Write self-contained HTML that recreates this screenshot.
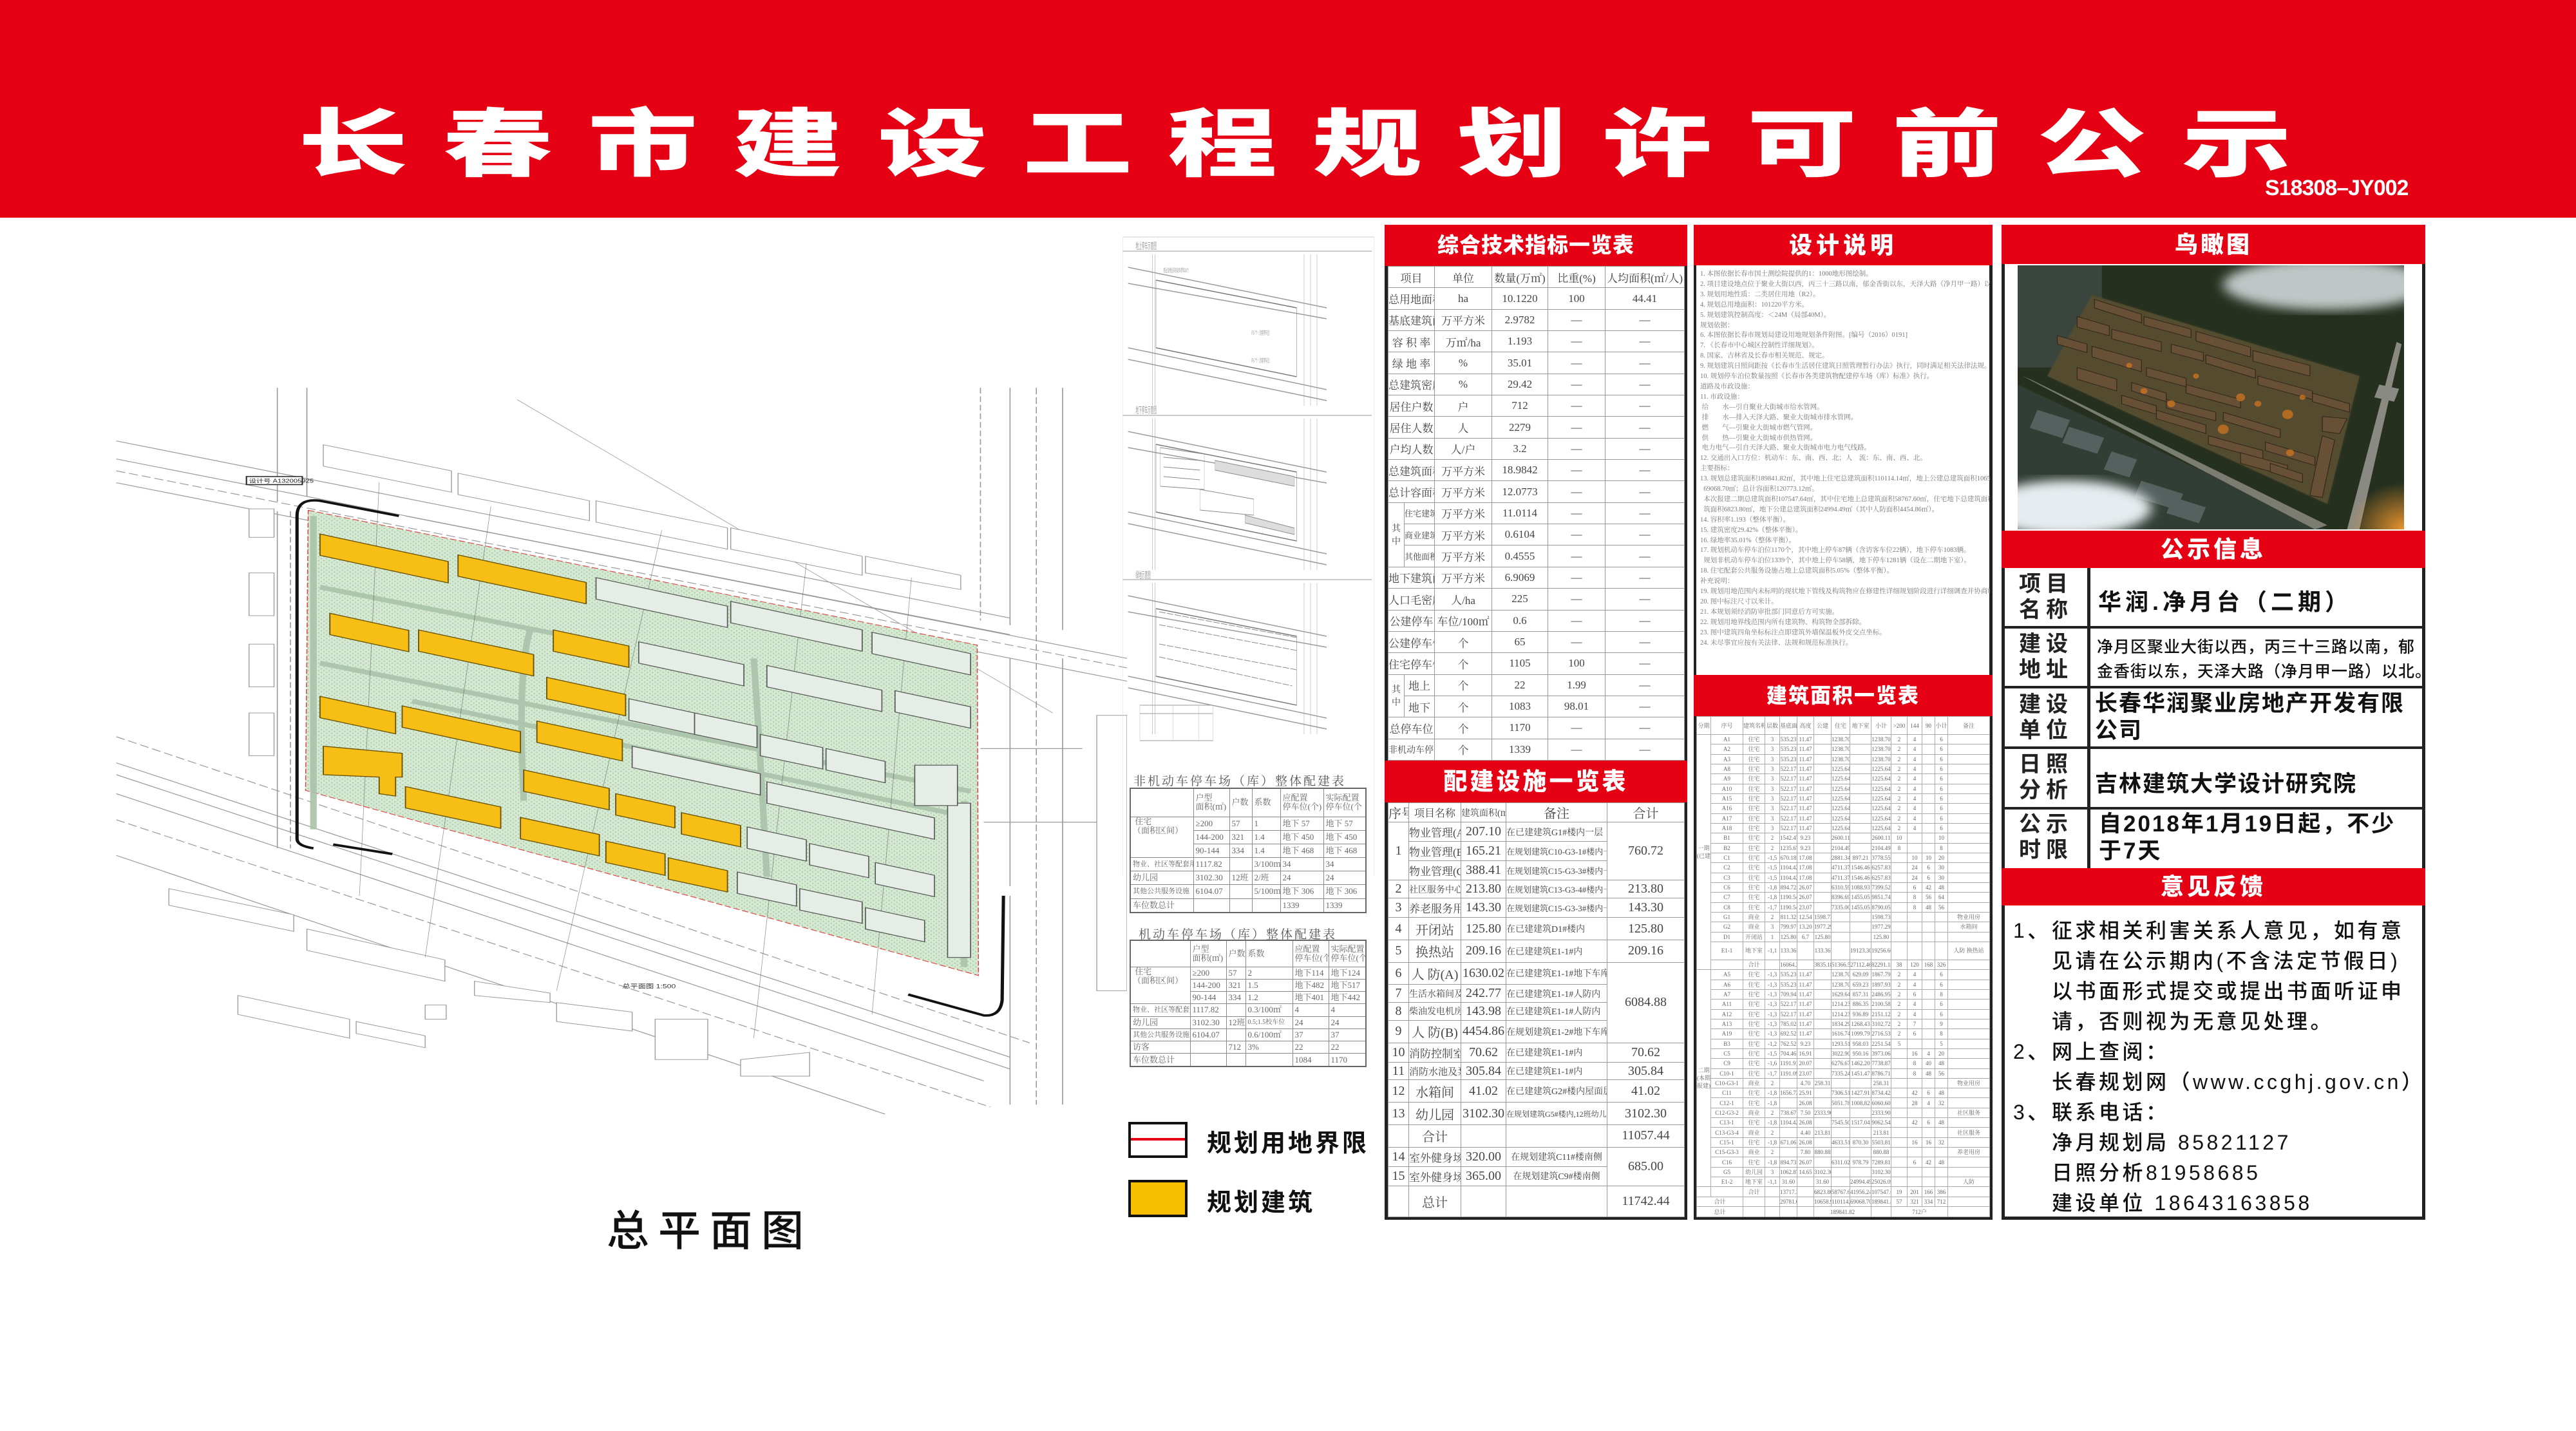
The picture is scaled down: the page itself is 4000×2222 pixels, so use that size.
<!DOCTYPE html>
<html><head><meta charset="utf-8">
<style>
*{margin:0;padding:0;box-sizing:border-box}
body{width:4000px;height:2222px;background:#fff;position:relative;overflow:hidden;font-family:"Liberation Sans","Noto Sans CJK SC",sans-serif}
.abs{position:absolute}
.red{background:#e50014}
.hdr{position:absolute;background:#e50014;color:#fff;font-weight:900;text-align:center;font-family:"Liberation Sans","Noto Sans CJK SC",sans-serif;white-space:nowrap}
table{border-collapse:collapse;table-layout:fixed}
.t1{font-family:"Liberation Serif","Noto Serif CJK SC",serif;color:#444}
.t1 td{border:1.5px solid #999;text-align:center;padding:0;overflow:hidden;white-space:nowrap}
.t3 td{border:1px solid #aaa;text-align:center;padding:0;overflow:hidden;white-space:nowrap;font-size:9px;line-height:12px;color:#666}
.tp td{border:1.5px solid #888;padding:0 3px;overflow:hidden;white-space:nowrap;font-size:13px;color:#666;line-height:14px}
.lab{font-weight:700;color:#222;font-size:34px;letter-spacing:8px;line-height:40px;text-align:center}
.val{color:#111;font-weight:700}
.fb{position:absolute;font-size:32px;color:#111;letter-spacing:4.5px;white-space:nowrap;font-weight:500}
</style></head><body>

<!-- HEADER -->
<div class="abs red" style="left:0;top:0;width:4000px;height:338px"></div>
<div class="abs" style="left:463px;top:128px;height:172px;width:3300px;color:#fff;font-family:'Noto Sans CJK SC',sans-serif;font-weight:900;font-size:170px;line-height:172px;white-space:nowrap;transform:scaleY(0.68);transform-origin:50% 50%;letter-spacing:55px">长春市建设工程规划许可前公示</div>
<div class="abs" style="left:3517px;top:273px;color:#fff;font-weight:700;font-size:34px;white-space:nowrap;letter-spacing:-1px">S18308–JY002</div>

<!-- SITE PLAN -->
<svg class="abs" style="left:150px;top:580px" width="1600" height="1150" viewBox="0 0 1568 1560" preserveAspectRatio="none">
<defs><pattern id="dots" width="8" height="8" patternUnits="userSpaceOnUse"><rect width="8" height="8" fill="#d4e8d2"/><circle cx="2" cy="2" r="1.1" fill="#9fc49b"/><circle cx="6" cy="6" r="1.1" fill="#9fc49b"/></pattern></defs>
<g stroke="#9a9a9a" stroke-width="1.6" fill="none">
<line x1="30" y1="142" x2="1390" y2="515"/><line x1="30" y1="180" x2="1390" y2="550"/>
<line x1="30" y1="205" x2="1568" y2="620" stroke-dasharray="14 6"/><line x1="30" y1="230" x2="1568" y2="648"/>
<line x1="470" y1="300" x2="1568" y2="600"/>
<line x1="30" y1="765" x2="1420" y2="1410" stroke-dasharray="14 6"/><line x1="30" y1="820" x2="1390" y2="1440"/>
<line x1="30" y1="845" x2="1390" y2="1465"/><line x1="30" y1="885" x2="1350" y2="1490"/>
<line x1="30" y1="940" x2="1360" y2="1545" stroke-dasharray="14 6"/><line x1="30" y1="1015" x2="1200" y2="1560"/>
<line x1="275" y1="30" x2="275" y2="270"/><line x1="320" y1="30" x2="320" y2="260"/>
<line x1="275" y1="290" x2="275" y2="1000"/><line x1="295" y1="290" x2="295" y2="1000" stroke-dasharray="12 6"/>
<line x1="1345" y1="30" x2="1345" y2="520" stroke-dasharray="12 6"/>
<line x1="1390" y1="30" x2="1390" y2="530"/><line x1="1430" y1="30" x2="1430" y2="1540" stroke-dasharray="14 6"/><line x1="1470" y1="30" x2="1470" y2="540"/>
<line x1="1390" y1="1100" x2="1390" y2="1540"/><line x1="1470" y1="600" x2="1470" y2="1540"/>
<line x1="1390" y1="600" x2="1390" y2="1080"/>
<line x1="640" y1="55" x2="1455" y2="715" stroke-width="1"/>
<line x1="1350" y1="945" x2="1568" y2="945"/><line x1="1345" y1="790" x2="1500" y2="790"/>
</g>
<!-- outer buildings -->
<g fill="#fff" stroke="#999" stroke-width="1.3">
<polygon points="345,150 540,205 540,250 345,195"/><polygon points="550,210 750,268 750,310 550,255"/>
<polygon points="760,268 960,325 960,370 760,313"/><polygon points="965,325 1165,385 1165,425 965,370"/>
<polygon points="1170,385 1315,425 1315,455 1170,420"/>
<rect x="232" y="285" width="38" height="60"/><rect x="232" y="420" width="38" height="90"/><rect x="232" y="570" width="38" height="90"/><rect x="232" y="715" width="38" height="90"/>
<polygon points="110,1085 300,1140 300,1175 110,1120"/><polygon points="320,1170 530,1235 530,1280 320,1215"/>
<polygon points="215,1310 385,1360 385,1400 215,1350"/><polygon points="395,1365 500,1395 500,1420 395,1390"/>
<polygon points="575,1280 690,1305 690,1325 575,1310"/><polygon points="700,1325 815,1345 815,1385 700,1365"/>
<rect x="850" y="1360" width="80" height="85"/><polygon points="980,1445 1085,1430 1085,1480 980,1480"/>
<rect x="500" y="1330" width="32" height="30"/>
<rect x="1522" y="720" width="46" height="580"/>
</g>
<!-- green site -->
<polygon points="322,288 1340,572 1342,1268 318,878" fill="url(#dots)" stroke="#d44" stroke-width="1.5" stroke-dasharray="10 4"/>
<g stroke="#a9c3a9" stroke-width="10" fill="none" opacity=".9">
<path d="M340,450 L760,565"/><path d="M340,610 L1330,880"/><path d="M480,690 L1330,935"/>
<path d="M660,540 Q640,620 650,900"/><path d="M1000,600 Q1010,800 1020,1060"/>
<path d="M330,960 L330,300"/><path d="M1320,900 L1320,1250"/>
</g>
<g stroke="#555" stroke-width="0.8" fill="none" opacity=".6">
<line x1="430" y1="230" x2="400" y2="1100"/><line x1="600" y1="280" x2="500" y2="1230"/><line x1="860" y1="330" x2="700" y2="1300"/><line x1="1080" y1="400" x2="1000" y2="1400"/><line x1="1240" y1="430" x2="1180" y2="1350"/>
</g>
<!-- grey buildings -->
<g fill="#e6ece6" stroke="#555" stroke-width="1.6">
<polygon points="760,430 960,490 960,535 760,475"/><polygon points="965,480 1165,540 1165,585 965,525"/>
<polygon points="1180,545 1330,590 1330,635 1180,590"/><polygon points="825,565 985,613 985,658 825,610"/>
<polygon points="1020,615 1195,667 1195,712 1020,660"/><polygon points="1215,668 1330,702 1330,747 1215,713"/>
<polygon points="810,685 910,715 910,760 810,730"/><polygon points="910,715 1005,743 1005,788 910,760"/>
<polygon points="1010,760 1105,788 1105,833 1010,805"/><polygon points="1110,790 1200,817 1200,862 1110,835"/>
<polygon points="815,785 1010,843 1010,888 815,830"/><polygon points="1020,860 1275,936 1275,981 1020,905"/>
<polygon points="990,955 1080,982 1080,1027 990,1000"/><polygon points="1085,990 1175,1017 1175,1062 1085,1035"/>
<polygon points="1185,1030 1275,1057 1275,1102 1185,1075"/><polygon points="975,1050 1065,1077 1065,1122 975,1095"/>
<polygon points="1070,1085 1165,1113 1165,1158 1070,1130"/><polygon points="1170,1125 1260,1152 1260,1197 1170,1170"/>
<rect x="1295" y="905" width="35" height="325"/><rect x="1245" y="825" width="65" height="85"/>
</g>
<!-- yellow buildings -->
<g fill="#f7bf16" stroke="#6a5200" stroke-width="1.8">
<polygon points="340,338 535,396 535,441 340,383"/><polygon points="550,382 745,440 745,485 550,427"/>
<polygon points="355,505 475,541 475,586 355,550"/><polygon points="490,540 665,592 665,637 490,585"/>
<polygon points="695,540 810,574 810,619 695,585"/><polygon points="685,640 805,676 805,721 685,685"/>
<polygon points="340,680 455,714 455,759 340,725"/><polygon points="465,700 645,754 645,799 465,745"/>
<polygon points="670,732 800,771 800,816 670,777"/>
<polygon points="345,785 465,800 465,850 455,850 455,890 430,885 430,850 345,845"/>
<polygon points="470,870 615,913 615,958 470,915"/><polygon points="650,835 780,874 780,919 650,880"/>
<polygon points="790,885 880,912 880,957 790,930"/><polygon points="890,925 980,952 980,997 890,970"/>
<polygon points="645,935 765,971 765,1016 645,980"/><polygon points="775,985 865,1012 865,1057 775,1030"/>
<polygon points="870,1020 960,1047 960,1092 870,1065"/>
</g>
<g stroke="#111" stroke-width="5" fill="none">
<path d="M460,300 L340,268 Q305,262 305,300 L305,980 Q305,995 330,1000"/>
<path d="M1235,1308 L1350,1352 Q1375,1355 1378,1320 L1380,1100"/>
<line x1="360" y1="992" x2="450" y2="1012"/>
</g>
<rect x="228" y="217" width="85" height="17" fill="#fff" stroke="#222" stroke-width="2"/>
<text x="232" y="230" font-size="11" fill="#222">设计号 A132005925</text>
<text x="800" y="1295" font-size="12" fill="#333">总平面图 1:500</text>
</svg>

<div class="abs" style="left:942px;top:1858px;font-size:66px;color:#111;letter-spacing:14px;font-weight:500;white-space:nowrap">总平面图</div>

<!-- MIDDLE COLUMN drawings -->
<svg class="abs" style="left:1730px;top:360px" width="420" height="1000" viewBox="0 0 1260 1000" preserveAspectRatio="none">
<g stroke="#bbb" stroke-width="1.5" fill="none">
<rect x="40" y="8" width="1170" height="1320" stroke="#ddd"/>
<line x1="40" y1="30" x2="1200" y2="30"/><line x1="40" y1="285" x2="1200" y2="285"/><line x1="40" y1="540" x2="1200" y2="540"/>
</g>
<g id="d1" stroke="#999" stroke-width="1.5" fill="none">
<line x1="65" y1="55" x2="990" y2="118"/><line x1="65" y1="80" x2="990" y2="135"/>
<line x1="65" y1="180" x2="990" y2="245"/><line x1="65" y1="198" x2="990" y2="262"/>
<line x1="178" y1="35" x2="178" y2="270"/><line x1="190" y1="35" x2="190" y2="270"/>
<line x1="885" y1="35" x2="885" y2="270"/><line x1="915" y1="35" x2="915" y2="270"/><line x1="945" y1="35" x2="945" y2="270"/>
<polygon points="195,75 850,118 850,225 195,180" stroke="#777"/>
</g>
<use href="#d1" y="255"/><use href="#d1" y="510"/>
<g fill="none" stroke="#888" stroke-width="1">
<path d="M215,335 L420,345 L420,400 L215,395Z M230,350 L400,355 M230,365 L400,370 M230,380 L400,385"/>
<path d="M470,355 L840,380 L840,395 L470,370Z" fill="#ddd"/>
<path d="M610,440 L840,460 L840,470 L610,452Z" fill="#ddd"/>
<path d="M400,400 L650,415 L650,440 L400,432Z"/>
<path d="M210,590 L850,630 M210,610 L850,650 M210,640 L850,680 M210,660 L830,705" stroke-dasharray="30 6"/>
</g>
<g font-size="14" fill="#999"><text x="100" y="27">地上停车示意图</text><text x="100" y="282">地下停车示意图</text><text x="100" y="538">绿地示意图</text>
<text x="230" y="63" font-size="9">商业及物业非机动车停车34个</text><text x="640" y="160" font-size="9">P3-7个（访客停车位）</text><text x="640" y="203" font-size="9">P5-7个（访客停车位）</text></g>
<rect x="120" y="735" width="340" height="55" fill="none" stroke="#999"/>
<line x1="120" y1="748" x2="460" y2="748" stroke="#999"/><line x1="275" y1="735" x2="275" y2="790" stroke="#999"/><line x1="395" y1="735" x2="395" y2="790" stroke="#999"/>
</svg>

<div class="abs" style="left:1760px;top:1198px;font-size:19px;color:#555;letter-spacing:3px;white-space:nowrap;font-family:'Liberation Serif','Noto Serif CJK SC',serif">非机动车停车场（库）整体配建表</div>
<table class="abs tp" style="left:1754px;top:1223px;width:366px;height:195px;border:2px solid #666;font-family:'Liberation Serif','Noto Serif CJK SC',serif">
<colgroup><col style="width:98px"><col style="width:56px"><col style="width:35px"><col style="width:44px"><col style="width:67px"><col style="width:66px"></colgroup>
<tr style="height:44px"><td></td><td>户型<br>面积(㎡)</td><td>户数</td><td>系数</td><td>应配置<br>停车位(个)</td><td>实际配置<br>停车位(个</td></tr>
<tr><td rowspan="3" style="vertical-align:top">&nbsp;住宅<br>（面积区间）</td><td>≥200</td><td>57</td><td>1</td><td>地下 57</td><td>地下 57</td></tr>
<tr><td>144-200</td><td>321</td><td>1.4</td><td>地下 450</td><td>地下 450</td></tr>
<tr><td>90-144</td><td>334</td><td>1.4</td><td>地下 468</td><td>地下 468</td></tr>
<tr><td style="font-size:11px">物业、社区等配套用房</td><td>1117.82</td><td></td><td>3/100㎡</td><td>34</td><td>34</td></tr>
<tr><td>幼儿园</td><td>3102.30</td><td>12班</td><td>2/班</td><td>24</td><td>24</td></tr>
<tr><td style="font-size:11px">其他公共服务设施</td><td>6104.07</td><td></td><td>5/100㎡</td><td>地下 306</td><td>地下 306</td></tr>
<tr><td>车位数总计</td><td></td><td></td><td></td><td>1339</td><td>1339</td></tr>
</table>
<div class="abs" style="left:1768px;top:1436px;font-size:19px;color:#555;letter-spacing:3px;white-space:nowrap;font-family:'Liberation Serif','Noto Serif CJK SC',serif">机动车停车场（库）整体配建表</div>
<table class="abs tp" style="left:1754px;top:1459px;width:366px;height:198px;border:2px solid #666;font-family:'Liberation Serif','Noto Serif CJK SC',serif">
<colgroup><col style="width:93px"><col style="width:56px"><col style="width:30px"><col style="width:73px"><col style="width:56px"><col style="width:58px"></colgroup>
<tr style="height:41px"><td></td><td>户型<br>面积(㎡)</td><td>户数</td><td>系数</td><td>应配置<br>停车位(个)</td><td>实际配置<br>停车位(个</td></tr>
<tr><td rowspan="3" style="vertical-align:top">&nbsp;住宅<br>（面积区间）</td><td>≥200</td><td>57</td><td>2</td><td>地下114</td><td>地下124</td></tr>
<tr><td>144-200</td><td>321</td><td>1.5</td><td>地下482</td><td>地下517</td></tr>
<tr><td>90-144</td><td>334</td><td>1.2</td><td>地下401</td><td>地下442</td></tr>
<tr><td style="font-size:11px">物业、社区等配套用房</td><td>1117.82</td><td></td><td>0.3/100㎡</td><td>4</td><td>4</td></tr>
<tr><td>幼儿园</td><td>3102.30</td><td>12班</td><td style="font-size:10px">0.5;1.5校车位</td><td>24</td><td>24</td></tr>
<tr><td style="font-size:11px">其他公共服务设施</td><td>6104.07</td><td></td><td>0.6/100㎡</td><td>37</td><td>37</td></tr>
<tr><td>访客</td><td></td><td>712</td><td>3%</td><td>22</td><td>22</td></tr>
<tr><td>车位数总计</td><td></td><td></td><td></td><td>1084</td><td>1170</td></tr>
</table>

<!-- legend -->
<div class="abs" style="left:1752px;top:1742px;width:92px;height:56px;border:4px solid #111;background:#fff"></div>
<div class="abs" style="left:1756px;top:1767px;width:84px;height:4px;background:#e50014"></div>
<div class="abs" style="left:1874px;top:1744px;font-size:38px;font-weight:700;color:#111;letter-spacing:4px;white-space:nowrap">规划用地界限</div>
<div class="abs" style="left:1752px;top:1832px;width:92px;height:58px;border:4px solid #111;background:#f7bf00"></div>
<div class="abs" style="left:1874px;top:1836px;font-size:38px;font-weight:700;color:#111;letter-spacing:4px;white-space:nowrap">规划建筑</div>

<!-- PANEL 1 -->
<div class="abs" style="left:2150px;top:349px;width:470px;height:1545px;border-left:5px solid #222;border-right:5px solid #222;border-bottom:5px solid #222"></div>
<div class="hdr" style="left:2150px;top:349px;width:470px;height:64px;font-size:33px;line-height:64px;letter-spacing:1px">综合技术指标一览表</div>
<table class="abs t1" style="left:2155px;top:413px;width:460px;height:768px;font-size:17px">
<colgroup><col style="width:25px"><col style="width:47px"><col style="width:89px"><col style="width:87px"><col style="width:89px"><col style="width:123px"></colgroup>
<tr><td colspan="2">项目</td><td>单位</td><td>数量(万㎡)</td><td>比重(%)</td><td>人均面积(㎡/人)</td></tr>
<tr><td colspan="2">总用地面积</td><td>ha</td><td>10.1220</td><td>100</td><td>44.41</td></tr>
<tr><td colspan="2">基底建筑面积</td><td>万平方米</td><td>2.9782</td><td>—</td><td>—</td></tr>
<tr><td colspan="2">容 积 率</td><td>万㎡/ha</td><td>1.193</td><td>—</td><td>—</td></tr>
<tr><td colspan="2">绿 地 率</td><td>%</td><td>35.01</td><td>—</td><td>—</td></tr>
<tr><td colspan="2">总建筑密度</td><td>%</td><td>29.42</td><td>—</td><td>—</td></tr>
<tr><td colspan="2">居住户数</td><td>户</td><td>712</td><td>—</td><td>—</td></tr>
<tr><td colspan="2">居住人数</td><td>人</td><td>2279</td><td>—</td><td>—</td></tr>
<tr><td colspan="2">户均人数</td><td>人/户</td><td>3.2</td><td>—</td><td>—</td></tr>
<tr><td colspan="2">总建筑面积</td><td>万平方米</td><td>18.9842</td><td>—</td><td>—</td></tr>
<tr><td colspan="2">总计容面积</td><td>万平方米</td><td>12.0773</td><td>—</td><td>—</td></tr>
<tr><td rowspan="3" style="font-size:14px;white-space:normal">其中</td><td style="font-size:13px">住宅建筑面积</td><td>万平方米</td><td>11.0114</td><td>—</td><td>—</td></tr>
<tr><td style="font-size:13px">商业建筑面积</td><td>万平方米</td><td>0.6104</td><td>—</td><td>—</td></tr>
<tr><td style="font-size:13px">其他面积</td><td>万平方米</td><td>0.4555</td><td>—</td><td>—</td></tr>
<tr><td colspan="2">地下建筑面积</td><td>万平方米</td><td>6.9069</td><td>—</td><td>—</td></tr>
<tr><td colspan="2">人口毛密度</td><td>人/ha</td><td>225</td><td>—</td><td>—</td></tr>
<tr><td colspan="2">公建停车</td><td>车位/100㎡</td><td>0.6</td><td>—</td><td>—</td></tr>
<tr><td colspan="2">公建停车位</td><td>个</td><td>65</td><td>—</td><td>—</td></tr>
<tr><td colspan="2">住宅停车位</td><td>个</td><td>1105</td><td>100</td><td>—</td></tr>
<tr><td rowspan="2" style="font-size:14px;white-space:normal">其中</td><td>地上</td><td>个</td><td>22</td><td>1.99</td><td>—</td></tr>
<tr><td>地下</td><td>个</td><td>1083</td><td>98.01</td><td>—</td></tr>
<tr><td colspan="2">总停车位</td><td>个</td><td>1170</td><td>—</td><td>—</td></tr>
<tr><td colspan="2" style="font-size:14px">非机动车停车位</td><td>个</td><td>1339</td><td>—</td><td>—</td></tr>
</table>
<div class="hdr" style="left:2150px;top:1181px;width:470px;height:65px;font-size:37px;line-height:65px;letter-spacing:4px">配建设施一览表</div>
<table class="abs t1" style="left:2155px;top:1246px;width:460px;height:644px;font-size:20px">
<colgroup><col style="width:32px"><col style="width:81px"><col style="width:70px"><col style="width:157px"><col style="width:120px"></colgroup>
<tr style="height:30px"><td>序号</td><td style="font-size:16px">项目名称</td><td style="font-size:14px">建筑面积(㎡)</td><td>备注</td><td>合计</td></tr>
<tr><td rowspan="3">1</td><td style="font-size:17px">物业管理(A)</td><td>207.10</td><td style="font-size:14px;text-align:left">在已建建筑G1#楼内一层</td><td rowspan="3">760.72</td></tr>
<tr><td style="font-size:17px">物业管理(B)</td><td>165.21</td><td style="font-size:13px;text-align:left">在规划建筑C10-G3-1#楼内一层</td></tr>
<tr><td style="font-size:17px">物业管理(C)</td><td>388.41</td><td style="font-size:13px;text-align:left">在规划建筑C15-G3-3#楼内一层</td></tr>
<tr><td>2</td><td style="font-size:14px">社区服务中心(A)</td><td>213.80</td><td style="font-size:13px;text-align:left">在规划建筑C13-G3-4#楼内一层</td><td>213.80</td></tr>
<tr><td>3</td><td style="font-size:17px">养老服务用房</td><td>143.30</td><td style="font-size:13px;text-align:left">在规划建筑C15-G3-3#楼内一层</td><td>143.30</td></tr>
<tr><td>4</td><td>开闭站</td><td>125.80</td><td style="font-size:14px;text-align:left">在已建建筑D1#楼内</td><td>125.80</td></tr>
<tr><td>5</td><td>换热站</td><td>209.16</td><td style="font-size:14px;text-align:left">在已建建筑E1-1#内</td><td>209.16</td></tr>
<tr><td>6</td><td>人 防(A)</td><td>1630.02</td><td style="font-size:14px;text-align:left">在已建建筑E1-1#地下车库</td><td rowspan="4">6084.88</td></tr>
<tr><td>7</td><td style="font-size:14px">生活水箱间及泵房</td><td>242.77</td><td style="font-size:14px;text-align:left">在已建建筑E1-1#人防内</td></tr>
<tr><td>8</td><td style="font-size:14px">柴油发电机房兼配电</td><td>143.98</td><td style="font-size:14px;text-align:left">在已建建筑E1-1#人防内</td></tr>
<tr><td>9</td><td>人 防(B)</td><td>4454.86</td><td style="font-size:14px;text-align:left">在规划建筑E1-2#地下车库</td></tr>
<tr><td>10</td><td style="font-size:17px">消防控制室</td><td>70.62</td><td style="font-size:14px;text-align:left">在已建建筑E1-1#内</td><td>70.62</td></tr>
<tr><td>11</td><td style="font-size:15px">消防水池及泵房</td><td>305.84</td><td style="font-size:14px;text-align:left">在已建建筑E1-1#内</td><td>305.84</td></tr>
<tr><td>12</td><td>水箱间</td><td>41.02</td><td style="font-size:14px;text-align:left">在已建建筑G2#楼内屋面层</td><td>41.02</td></tr>
<tr><td>13</td><td>幼儿园</td><td>3102.30</td><td style="font-size:12px;text-align:left">在规划建筑G5#楼内,12班幼儿园</td><td>3102.30</td></tr>
<tr><td></td><td>合计</td><td></td><td></td><td>11057.44</td></tr>
<tr><td>14</td><td style="font-size:17px">室外健身场地</td><td>320.00</td><td style="font-size:14px">在规划建筑C11#楼南侧</td><td rowspan="2">685.00</td></tr>
<tr><td>15</td><td style="font-size:17px">室外健身场地</td><td>365.00</td><td style="font-size:14px">在规划建筑C9#楼南侧</td></tr>
<tr style="height:48px"><td></td><td>总计</td><td></td><td></td><td>11742.44</td></tr>
</table>

<!-- PANEL 2 -->
<div class="abs" style="left:2630px;top:349px;width:464px;height:1545px;border-left:4px solid #222;border-right:5px solid #222;border-bottom:5px solid #222"></div>
<div class="hdr" style="left:2630px;top:349px;width:464px;height:63px;font-size:36px;line-height:63px;letter-spacing:6px">设计说明</div>
<div class="abs" style="left:2640px;top:418px;width:450px;font-size:10.5px;line-height:15.9px;color:#777;white-space:nowrap;overflow:hidden;font-family:'Liberation Serif','Noto Serif CJK SC',serif">
1. 本图依据长春市国土测绘院提供的1：1000地形图绘制。<br>
2. 项目建设地点位于聚业大街以西，丙三十三路以南，郁金香街以东，天泽大路（净月甲一路）以北。<br>
3. 规划用地性质：二类居住用地（R2）。<br>
4. 规划总用地面积：101220平方米。<br>
5. 规划建筑控制高度：＜24M（局部40M）。<br>
规划依据：<br>
6. 本图依据长春市规划局建设用地规划条件附图。[编号（2016）0191]<br>
7. 《长春市中心城区控制性详细规划》。<br>
8. 国家、吉林省及长春市相关规范、规定。<br>
9. 规划建筑日照间距按《长春市生活居住建筑日照管理暂行办法》执行，同时满足相关法律法规。<br>
10. 规划停车泊位数量按照《长春市各类建筑物配建停车场（库）标准》执行。<br>
道路及市政设施：<br>
11. 市政设施：<br>
&nbsp;给　　水—引自聚业大街城市给水管网。<br>
&nbsp;排　　水—排入天泽大路、聚业大街城市排水管网。<br>
&nbsp;燃　　气—引聚业大街城市燃气管网。<br>
&nbsp;供　　热—引聚业大街城市供热管网。<br>
&nbsp;电力电气—引自天泽大路、聚业大街城市电力电气线路。<br>
12. 交通出入口方位：机动车：东、南、西、北；人　流：东、南、西、北。<br>
主要指标：<br>
13. 规划总建筑面积189841.82㎡，其中地上住宅总建筑面积110114.14㎡，地上公建总建筑面积10658.98㎡，地下总建筑面积<br>
&nbsp;&nbsp;69068.70㎡；总计容面积120773.12㎡。<br>
&nbsp;&nbsp;本次报建二期总建筑面积107547.64㎡，其中住宅地上总建筑面积58767.60㎡，住宅地下总建筑面积16961.75㎡；地上公建总建<br>
&nbsp;&nbsp;筑面积6823.80㎡，地下公建总建筑面积24994.49㎡（其中人防面积4454.86㎡）。<br>
14. 容积率1.193（整体平衡）。<br>
15. 建筑密度29.42%（整体平衡）。<br>
16. 绿地率35.01%（整体平衡）。<br>
17. 规划机动车停车泊位1170个，其中地上停车87辆（含访客车位22辆），地下停车1083辆。<br>
&nbsp;&nbsp;规划非机动车停车泊位1339个，其中地上停车58辆，地下停车1281辆（设在二期地下室）。<br>
18. 住宅配套公共服务设施占地上总建筑面积5.05%（整体平衡）。<br>
补充说明：<br>
19. 规划用地范围内未标明的现状地下管线及构筑物应在修建性详细规划阶段进行详细调查并协商解决。<br>
20. 图中标注尺寸以米计。<br>
21. 本规划须经消防审批部门同意后方可实施。<br>
22. 规划用地界线范围内所有建筑物、构筑物全部拆除。<br>
23. 图中建筑四角坐标标注点即建筑外墙保温板外皮交点坐标。<br>
24. 未尽事宜应按有关法律、法规和规范标准执行。
</div>
<div class="hdr" style="left:2630px;top:1048px;width:464px;height:64px;font-size:32px;line-height:64px;letter-spacing:2px">建筑面积一览表</div>
<table class="abs t3" style="left:2634px;top:1112px;width:455px;height:778px;font-family:'Liberation Serif','Noto Serif CJK SC',serif">
<colgroup><col style="width:22px"><col style="width:50px"><col style="width:34px"><col style="width:23px"><col style="width:27px"><col style="width:26px"><col style="width:27px"><col style="width:29px"><col style="width:33px"><col style="width:31px"><col style="width:25px"><col style="width:23px"><col style="width:20px"><col style="width:20px"><col style="width:65px"></colgroup>
<tr style="height:28px"><td>分期</td><td>序号</td><td>建筑名称</td><td>层数</td><td>基底面积</td><td>高度</td><td>公建</td><td>住宅</td><td>地下室</td><td>小计</td><td>&gt;200</td><td>144</td><td>90</td><td>小计</td><td>备注</td></tr>
<tr><td rowspan="23">一期<br>(已建)</td><td>A1</td><td>住宅</td><td>3</td><td>535.23</td><td>11.47</td><td></td><td>1238.70</td><td></td><td>1238.70</td><td>2</td><td>4</td><td></td><td>6</td><td></td></tr>
<tr><td>A2</td><td>住宅</td><td>3</td><td>535.23</td><td>11.47</td><td></td><td>1238.70</td><td></td><td>1238.70</td><td>2</td><td>4</td><td></td><td>6</td><td></td></tr>
<tr><td>A3</td><td>住宅</td><td>3</td><td>535.23</td><td>11.47</td><td></td><td>1238.70</td><td></td><td>1238.70</td><td>2</td><td>4</td><td></td><td>6</td><td></td></tr>
<tr><td>A8</td><td>住宅</td><td>3</td><td>522.17</td><td>11.47</td><td></td><td>1225.64</td><td></td><td>1225.64</td><td>2</td><td>4</td><td></td><td>6</td><td></td></tr>
<tr><td>A9</td><td>住宅</td><td>3</td><td>522.17</td><td>11.47</td><td></td><td>1225.64</td><td></td><td>1225.64</td><td>2</td><td>4</td><td></td><td>6</td><td></td></tr>
<tr><td>A10</td><td>住宅</td><td>3</td><td>522.17</td><td>11.47</td><td></td><td>1225.64</td><td></td><td>1225.64</td><td>2</td><td>4</td><td></td><td>6</td><td></td></tr>
<tr><td>A15</td><td>住宅</td><td>3</td><td>522.17</td><td>11.47</td><td></td><td>1225.64</td><td></td><td>1225.64</td><td>2</td><td>4</td><td></td><td>6</td><td></td></tr>
<tr><td>A16</td><td>住宅</td><td>3</td><td>522.17</td><td>11.47</td><td></td><td>1225.64</td><td></td><td>1225.64</td><td>2</td><td>4</td><td></td><td>6</td><td></td></tr>
<tr><td>A17</td><td>住宅</td><td>3</td><td>522.17</td><td>11.47</td><td></td><td>1225.64</td><td></td><td>1225.64</td><td>2</td><td>4</td><td></td><td>6</td><td></td></tr>
<tr><td>A18</td><td>住宅</td><td>3</td><td>522.17</td><td>11.47</td><td></td><td>1225.64</td><td></td><td>1225.64</td><td>2</td><td>4</td><td></td><td>6</td><td></td></tr>
<tr><td>B1</td><td>住宅</td><td>2</td><td>1542.47</td><td>9.23</td><td></td><td>2600.11</td><td></td><td>2600.11</td><td>10</td><td></td><td></td><td>10</td><td></td></tr>
<tr><td>B2</td><td>住宅</td><td>2</td><td>1235.67</td><td>9.23</td><td></td><td>2104.49</td><td></td><td>2104.49</td><td>8</td><td></td><td></td><td>8</td><td></td></tr>
<tr><td>C1</td><td>住宅</td><td>-1,5</td><td>670.18</td><td>17.08</td><td></td><td>2881.34</td><td>897.21</td><td>3778.55</td><td></td><td>10</td><td>10</td><td>20</td><td></td></tr>
<tr><td>C2</td><td>住宅</td><td>-1,5</td><td>1104.42</td><td>17.08</td><td></td><td>4711.37</td><td>1546.46</td><td>6257.83</td><td></td><td>24</td><td>6</td><td>30</td><td></td></tr>
<tr><td>C3</td><td>住宅</td><td>-1,5</td><td>1104.42</td><td>17.08</td><td></td><td>4711.37</td><td>1546.46</td><td>6257.83</td><td></td><td>24</td><td>6</td><td>30</td><td></td></tr>
<tr><td>C6</td><td>住宅</td><td>-1,8</td><td>894.72</td><td>26.07</td><td></td><td>6310.59</td><td>1088.93</td><td>7399.52</td><td></td><td>6</td><td>42</td><td>48</td><td></td></tr>
<tr><td>C7</td><td>住宅</td><td>-1,8</td><td>1190.54</td><td>26.07</td><td></td><td>8396.69</td><td>1455.05</td><td>9851.74</td><td></td><td>8</td><td>56</td><td>64</td><td></td></tr>
<tr><td>C8</td><td>住宅</td><td>-1,7</td><td>1190.54</td><td>23.07</td><td></td><td>7335.00</td><td>1455.05</td><td>8790.05</td><td></td><td>8</td><td>48</td><td>56</td><td></td></tr>
<tr><td>G1</td><td>商业</td><td>2</td><td>811.32</td><td>12.54</td><td>1598.73</td><td></td><td></td><td>1598.73</td><td></td><td></td><td></td><td></td><td>物业用房</td></tr>
<tr><td>G2</td><td>商业</td><td>3</td><td>799.97</td><td>13.20</td><td>1977.29</td><td></td><td></td><td>1977.29</td><td></td><td></td><td></td><td></td><td>水箱间</td></tr>
<tr><td>D1</td><td>开闭站</td><td>1</td><td>125.80</td><td>6.7</td><td>125.80</td><td></td><td></td><td>125.80</td><td></td><td></td><td></td><td></td><td></td></tr>
<tr style="height:28px"><td>E1-1</td><td>地下室</td><td>-1,1</td><td>133.36</td><td></td><td>133.36</td><td></td><td>19123.30</td><td>19256.66</td><td></td><td></td><td></td><td></td><td>人防 换热站</td></tr>
<tr><td></td><td>合计</td><td></td><td>16064.29</td><td></td><td>3835.18</td><td>51366.54</td><td>27112.46</td><td>82291.18</td><td>38</td><td>120</td><td>168</td><td>326</td><td></td></tr>
<tr><td rowspan="22">二期<br>(本期<br>报建)</td><td>A5</td><td>住宅</td><td>-1,3</td><td>535.23</td><td>11.47</td><td></td><td>1238.70</td><td>629.09</td><td>1867.79</td><td>2</td><td>4</td><td></td><td>6</td><td></td></tr>
<tr><td>A6</td><td>住宅</td><td>-1,3</td><td>535.23</td><td>11.47</td><td></td><td>1238.70</td><td>659.23</td><td>1897.93</td><td>2</td><td>4</td><td></td><td>6</td><td></td></tr>
<tr><td>A7</td><td>住宅</td><td>-1,3</td><td>709.94</td><td>11.47</td><td></td><td>1629.64</td><td>857.31</td><td>2486.95</td><td>2</td><td>6</td><td></td><td>8</td><td></td></tr>
<tr><td>A11</td><td>住宅</td><td>-1,3</td><td>522.17</td><td>11.47</td><td></td><td>1214.23</td><td>886.35</td><td>2100.58</td><td>2</td><td>4</td><td></td><td>6</td><td></td></tr>
<tr><td>A12</td><td>住宅</td><td>-1,3</td><td>522.17</td><td>11.47</td><td></td><td>1214.23</td><td>936.89</td><td>2151.12</td><td>2</td><td>4</td><td></td><td>6</td><td></td></tr>
<tr><td>A13</td><td>住宅</td><td>-1,3</td><td>785.02</td><td>11.47</td><td></td><td>1834.29</td><td>1268.43</td><td>3102.72</td><td>2</td><td>7</td><td></td><td>9</td><td></td></tr>
<tr><td>A19</td><td>住宅</td><td>-1,3</td><td>692.52</td><td>11.47</td><td></td><td>1616.74</td><td>1099.79</td><td>2716.53</td><td>2</td><td>6</td><td></td><td>8</td><td></td></tr>
<tr><td>B3</td><td>住宅</td><td>-1,2</td><td>762.52</td><td>9.23</td><td></td><td>1293.51</td><td>958.03</td><td>2251.54</td><td>5</td><td></td><td></td><td>5</td><td></td></tr>
<tr><td>C5</td><td>住宅</td><td>-1,5</td><td>704.46</td><td>16.91</td><td></td><td>3022.90</td><td>950.16</td><td>3973.06</td><td></td><td>16</td><td>4</td><td>20</td><td></td></tr>
<tr><td>C9</td><td>住宅</td><td>-1,6</td><td>1191.91</td><td>20.07</td><td></td><td>6276.67</td><td>1462.20</td><td>7738.87</td><td></td><td>8</td><td>40</td><td>48</td><td></td></tr>
<tr><td>C10-1</td><td>住宅</td><td>-1,7</td><td>1191.09</td><td>23.07</td><td></td><td>7335.24</td><td>1451.47</td><td>8786.71</td><td></td><td>8</td><td>48</td><td>56</td><td></td></tr>
<tr><td>C10-G3-1</td><td>商业</td><td>2</td><td></td><td>4.70</td><td>258.31</td><td></td><td></td><td>258.31</td><td></td><td></td><td></td><td></td><td>物业用房</td></tr>
<tr><td>C11</td><td>住宅</td><td>-1,8</td><td>1656.72</td><td>25.91</td><td></td><td>7306.51</td><td>1427.91</td><td>8734.42</td><td></td><td>42</td><td>6</td><td>48</td><td></td></tr>
<tr><td>C12-1</td><td>住宅</td><td>-1,8</td><td></td><td>26.08</td><td></td><td>5051.78</td><td>1008.82</td><td>6060.60</td><td></td><td>28</td><td>4</td><td>32</td><td></td></tr>
<tr><td>C12-G3-2</td><td>商业</td><td>2</td><td>738.67</td><td>7.50</td><td>2333.90</td><td></td><td></td><td>2333.90</td><td></td><td></td><td></td><td></td><td>社区服务</td></tr>
<tr><td>C13-1</td><td>住宅</td><td>-1,8</td><td>1104.42</td><td>26.08</td><td></td><td>7545.50</td><td>1517.04</td><td>9062.54</td><td></td><td>42</td><td>6</td><td>48</td><td></td></tr>
<tr><td>C13-G3-4</td><td>商业</td><td>2</td><td></td><td>4.40</td><td>213.81</td><td></td><td></td><td>213.81</td><td></td><td></td><td></td><td></td><td>社区服务</td></tr>
<tr><td>C15-1</td><td>住宅</td><td>-1,8</td><td>671.06</td><td>26.08</td><td></td><td>4633.51</td><td>870.30</td><td>5503.81</td><td></td><td>16</td><td>16</td><td>32</td><td></td></tr>
<tr><td>C15-G3-3</td><td>商业</td><td>2</td><td></td><td>7.80</td><td>880.88</td><td></td><td></td><td>880.88</td><td></td><td></td><td></td><td></td><td>养老用房</td></tr>
<tr><td>C16</td><td>住宅</td><td>-1,8</td><td>894.73</td><td>26.07</td><td></td><td>6311.02</td><td>978.79</td><td>7289.81</td><td></td><td>6</td><td>42</td><td>48</td><td></td></tr>
<tr><td>G5</td><td>幼儿园</td><td>3</td><td>1062.87</td><td>14.65</td><td>3102.30</td><td></td><td></td><td>3102.30</td><td></td><td></td><td></td><td></td><td></td></tr>
<tr><td>E1-2</td><td>地下室</td><td>-1,1</td><td>31.60</td><td></td><td>31.60</td><td></td><td>24994.49</td><td>25026.09</td><td></td><td></td><td></td><td></td><td>人防</td></tr>
<tr><td></td><td></td><td>合计</td><td></td><td>13717.33</td><td></td><td>6823.80</td><td>58767.60</td><td>41956.24</td><td>107547.64</td><td>19</td><td>201</td><td>166</td><td>386</td><td></td></tr>
<tr><td colspan="2">合计</td><td></td><td></td><td>29781.62</td><td></td><td>10658.98</td><td>110114.14</td><td>69068.70</td><td>189841.82</td><td>57</td><td>321</td><td>334</td><td>712</td><td></td></tr>
<tr><td colspan="2">总计</td><td></td><td></td><td></td><td></td><td colspan="3">189841.82</td><td></td><td colspan="4">712户</td><td></td></tr>
</table>

<!-- PANEL 3 -->
<div class="abs" style="left:3108px;top:349px;width:658px;height:1545px;border-left:5px solid #222;border-right:5px solid #222;border-bottom:5px solid #222"></div>
<div class="hdr" style="left:3108px;top:349px;width:658px;height:61px;font-size:36px;line-height:61px;letter-spacing:4px">鸟瞰图</div>
<svg class="abs" style="left:3133px;top:412px" width="600" height="410" viewBox="0 0 1560 1240" preserveAspectRatio="none">
<defs>
<filter id="bl"><feGaussianBlur stdDeviation="25"/></filter>
<filter id="bl2"><feGaussianBlur stdDeviation="6"/></filter>
<radialGradient id="gl" cx="1" cy="1" r="0.5"><stop offset="0" stop-color="#ffa030"/><stop offset="1" stop-color="#ffa030" stop-opacity="0"/></radialGradient>
</defs>
<rect width="1560" height="1240" fill="#26301f"/>
<rect x="0" y="0" width="340" height="480" fill="#434e4b" opacity=".7"/>
<polygon points="0,560 1250,1240 0,1240" fill="#323d35"/>
<polygon points="300,140 1380,520 1250,1120 120,520" fill="#4e4a2e"/>
<g filter="url(#bl2)" opacity=".9">
<polygon points="300,140 1380,520 1250,1120 120,520" fill="#5a5030" opacity=".6"/>
</g>
<g fill="#6b5138" stroke="#2d2218" stroke-width="3" opacity=".9">
<polygon points="310,160 500,230 500,270 310,200"/><polygon points="510,240 700,300 700,340 510,280"/>
<polygon points="720,310 940,385 940,430 720,355"/><polygon points="950,400 1180,470 1180,520 950,450"/>
<polygon points="240,240 370,285 370,330 240,290"/><polygon points="380,300 580,360 580,405 380,345"/>
<polygon points="160,330 280,370 280,410 160,370"/><polygon points="300,380 500,445 500,500 300,430"/>
<polygon points="240,480 400,535 400,590 240,535"/>
<polygon points="620,370 750,410 750,450 620,410"/><polygon points="760,420 960,490 960,530 760,460"/>
<polygon points="970,520 1190,590 1190,630 970,560"/><polygon points="1190,600 1340,650 1340,690 1190,640"/>
<polygon points="460,550 600,600 600,640 460,590"/><polygon points="520,480 680,530 680,570 520,520"/>
<polygon points="680,560 900,630 900,670 680,600"/><polygon points="420,610 560,660 560,700 420,650"/>
<polygon points="600,630 800,690 800,730 600,670"/><polygon points="830,690 1060,770 1060,810 830,730"/>
<polygon points="560,680 760,750 760,790 560,720"/><polygon points="770,800 990,870 990,910 770,840"/>
<polygon points="1000,830 1200,900 1200,940 1000,870"/><polygon points="900,880 1090,940 1090,990 900,930"/>
<polygon points="1020,930 1150,980 1150,1020 1020,970"/><polygon points="1230,710 1330,720 1300,790 1230,780"/>
<polygon points="1230,800 1280,820 1230,1090 1180,1080"/>
</g>
<g fill="#d8781c" opacity=".7"><circle cx="830" cy="770" r="22"/><circle cx="1090" cy="700" r="22"/><circle cx="900" cy="620" r="18"/><circle cx="620" cy="650" r="16"/><circle cx="510" cy="590" r="14"/><circle cx="1100" cy="880" r="16"/><circle cx="970" cy="650" r="14"/><circle cx="720" cy="520" r="12"/><circle cx="1150" cy="620" r="12"/><circle cx="450" cy="470" r="12"/></g>
<polygon points="20,520 60,540 1250,1220 1200,1240" fill="#7b7c72"/>
<polygon points="1530,360 1550,370 1380,1240 1330,1240" fill="#8a8a82"/>
<polygon points="1460,560 1540,580 1520,640 1440,620" fill="#8a8a84"/>
<g fill="#56615f"><rect x="60" y="700" width="140" height="90" transform="rotate(20 130 745)"/><rect x="190" y="780" width="150" height="80" transform="rotate(20 260 820)"/><rect x="360" y="890" width="110" height="90" transform="rotate(20 415 935)"/><rect x="480" y="1040" width="180" height="80" transform="rotate(20 570 1080)"/><rect x="610" y="1110" width="140" height="80" transform="rotate(20 680 1150)"/></g>
<ellipse cx="1250" cy="90" rx="420" ry="120" fill="#bfc6c6" filter="url(#bl)"/>
<ellipse cx="200" cy="1140" rx="340" ry="130" fill="#e6ecef" filter="url(#bl)"/>
<rect x="1100" y="800" width="460" height="440" fill="url(#gl)" opacity=".9"/>
</svg>
<div class="hdr" style="left:3108px;top:824px;width:658px;height:58px;font-size:36px;line-height:58px;letter-spacing:5px">公示信息</div>
<div class="abs" style="left:3113px;top:882px;width:648px;height:466px">
 <div class="abs" style="left:128px;top:0;width:5px;height:466px;background:#222"></div>
 <div class="abs" style="left:0;top:90px;width:648px;height:4px;background:#222"></div>
 <div class="abs" style="left:0;top:183px;width:648px;height:4px;background:#222"></div>
 <div class="abs" style="left:0;top:277px;width:648px;height:4px;background:#222"></div>
 <div class="abs" style="left:0;top:371px;width:648px;height:4px;background:#222"></div>
 <div class="abs lab" style="left:0;top:5px;width:128px">项目<br>名称</div>
 <div class="abs lab" style="left:0;top:98px;width:128px">建设<br>地址</div>
 <div class="abs lab" style="left:0;top:192px;width:128px">建设<br>单位</div>
 <div class="abs lab" style="left:0;top:285px;width:128px">日照<br>分析</div>
 <div class="abs lab" style="left:0;top:378px;width:128px">公示<br>时限</div>
 <div class="abs val" style="left:145px;top:24px;font-size:36px;letter-spacing:6px;white-space:nowrap">华润.净月台（二期）</div>
 <div class="abs" style="left:143px;top:104px;font-size:25px;line-height:38px;letter-spacing:1px;white-space:nowrap;color:#111;font-weight:500">净月区聚业大街以西，丙三十三路以南，郁<br>金香街以东，天泽大路（净月甲一路）以北。</div>
 <div class="abs val" style="left:140px;top:190px;font-size:35px;line-height:42px;letter-spacing:2px;white-space:nowrap">长春华润聚业房地产开发有限<br>公司</div>
 <div class="abs val" style="left:140px;top:307px;font-size:35px;letter-spacing:2px;white-space:nowrap">吉林建筑大学设计研究院</div>
 <div class="abs val" style="left:146px;top:377px;font-size:35px;line-height:42px;letter-spacing:3px;white-space:nowrap">自2018年1月19日起，不少<br>于7天</div>
</div>
<div class="hdr" style="left:3108px;top:1348px;width:658px;height:58px;font-size:36px;line-height:58px;letter-spacing:5px">意见反馈</div>
<div class="fb" style="left:3126px;top:1420px">1、</div><div class="fb" style="left:3186px;top:1420px">征求相关利害关系人意见，如有意</div>
<div class="fb" style="left:3186px;top:1467px">见请在公示期内(不含法定节假日)</div>
<div class="fb" style="left:3186px;top:1514px">以书面形式提交或提出书面听证申</div>
<div class="fb" style="left:3186px;top:1561px">请，否则视为无意见处理。</div>
<div class="fb" style="left:3126px;top:1608px">2、</div><div class="fb" style="left:3186px;top:1608px">网上查阅：</div>
<div class="fb" style="left:3186px;top:1655px">长春规划网（www.ccghj.gov.cn）</div>
<div class="fb" style="left:3126px;top:1702px">3、</div><div class="fb" style="left:3186px;top:1702px">联系电话：</div>
<div class="fb" style="left:3186px;top:1749px">净月规划局 85821127</div>
<div class="fb" style="left:3186px;top:1796px">日照分析81958685</div>
<div class="fb" style="left:3186px;top:1843px">建设单位 18643163858</div>
</body></html>
